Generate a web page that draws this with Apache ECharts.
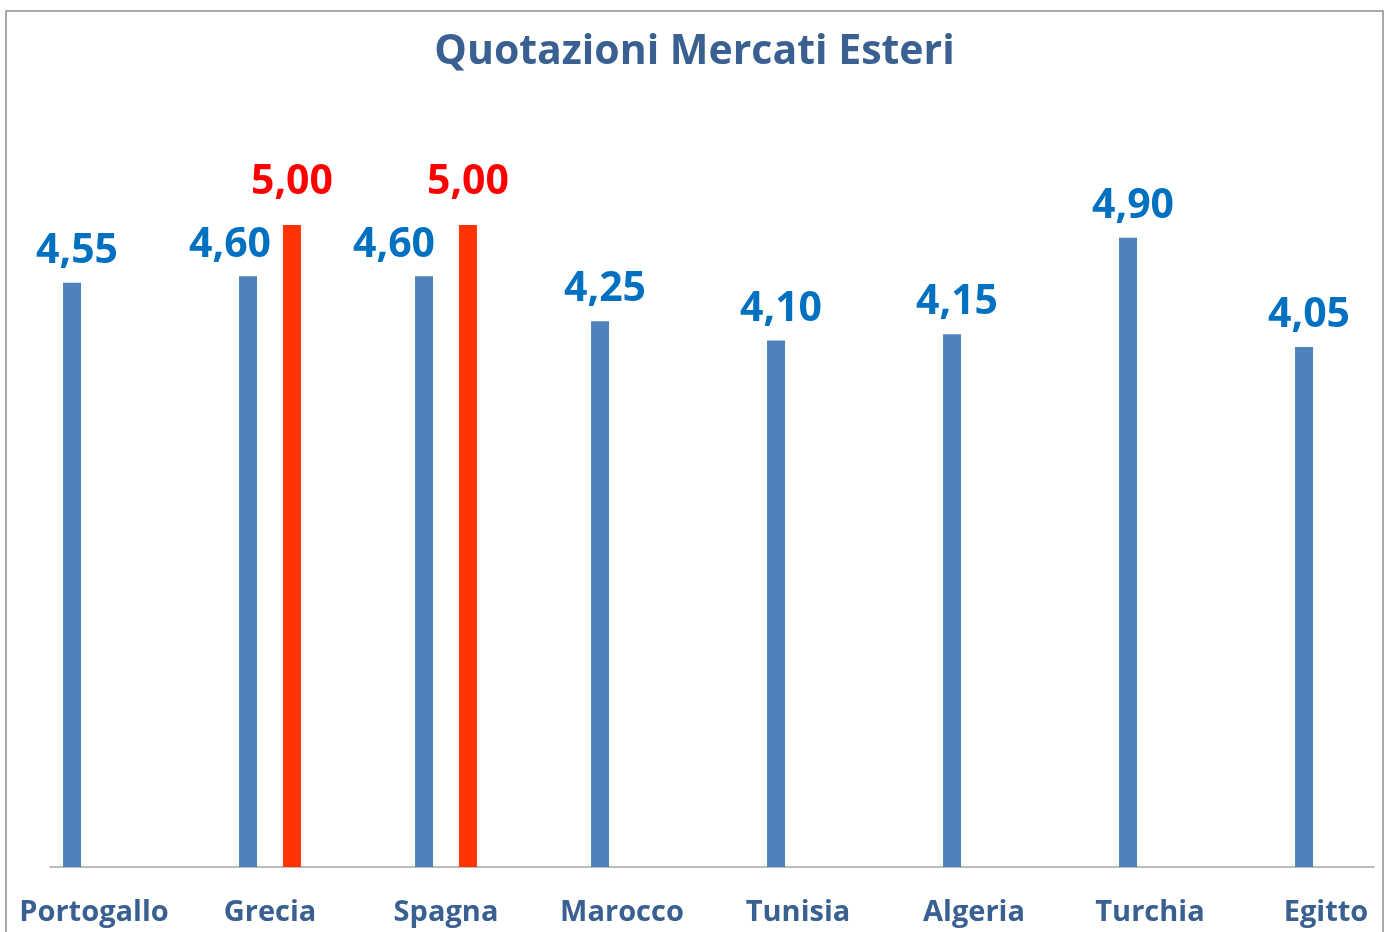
<!DOCTYPE html>
<html>
<head>
<meta charset="utf-8">
<title>Quotazioni Mercati Esteri</title>
<script src="https://cdn.jsdelivr.net/npm/echarts@6/dist/echarts.min.js"></script>
<style>
    html, body { margin: 0; padding: 0; background: #fff; }
    #chart { width: 1389px; height: 932px; }
</style>
</head>
<body>
<div id="chart"></div>
<script>
// dati del grafico
var paesi = ['Portogallo', 'Grecia', 'Spagna', 'Marocco', 'Tunisia', 'Algeria', 'Turchia', 'Egitto'];
var quotazioni = [4.55, 4.60, 4.60, 4.25, 4.10, 4.15, 4.90, 4.05];
var quotazioniMax = [null, 5.00, 5.00, null, null, null, null, null];

// spostamento orizzontale delle etichette blu, per non sovrapporsi alle barre rosse
var spostaEtichette = [5, -18, -30, 5, 5, 5, 5, 5];

var font = '"Open Sans", Lato, sans-serif';

function virgola(v) {
    return v.toFixed(2).replace('.', ',');
}

var datiBlu = [];
for (var i = 0; i < quotazioni.length; i++) {
    datiBlu.push({
        value: quotazioni[i],
        label: { offset: [spostaEtichette[i], 0] }
    });
}

var myChart = echarts.init(document.getElementById('chart'));

var option = {
    animation: false,
    title: {
        text: 'Quotazioni Mercati Esteri',
        left: 'center',
        top: 27,
        textStyle: {
            color: '#3A6091',
            fontFamily: font,
            fontWeight: 'bold',
            fontSize: 41
        }
    },
    graphic: [{
        type: 'rect',
        shape: { x: 6, y: 11, width: 1377, height: 940 },
        style: { fill: null, stroke: '#8c8c8c', lineWidth: 1.5 },
        silent: true
    }],
    grid: [
        { left: 94, right: 63, top: 225, bottom: 65 },
        // solo per la linea dell'asse orizzontale
        { left: 50, right: 15, top: 225, bottom: 65 }
    ],
    xAxis: [{
        type: 'category',
        gridIndex: 0,
        data: paesi,
        boundaryGap: false,
        axisLine: { show: false },
        axisTick: { show: false },
        axisLabel: {
            interval: 0,
            margin: 31,
            color: '#3A6091',
            fontFamily: font,
            fontWeight: 'bold',
            fontSize: 29
        }
    }, {
        type: 'value',
        gridIndex: 1,
        axisLine: { show: true, lineStyle: { color: '#a6a6a6', width: 1.5 } },
        axisTick: { show: false },
        axisLabel: { show: false },
        splitLine: { show: false }
    }],
    yAxis: [{
        type: 'value',
        gridIndex: 0,
        min: 0,
        max: 5,
        show: false
    }, {
        type: 'value',
        gridIndex: 1,
        show: false
    }],
    series: [
        {
            name: 'Quotazione',
            type: 'bar',
            data: datiBlu,
            barWidth: 18,
            barGap: '144%',
            itemStyle: { color: '#4F81BD' },
            label: {
                show: true,
                position: 'top',
                distance: 11,
                color: '#0070C0',
                fontFamily: font,
                fontWeight: 'bold',
                fontSize: 41,
                formatter: function (p) { return virgola(p.value); }
            }
        },
        {
            name: 'Quotazione massima',
            type: 'bar',
            data: quotazioniMax,
            barWidth: 18,
            itemStyle: { color: '#FF3300' },
            label: {
                show: true,
                position: 'top',
                distance: 22,
                color: '#FF0000',
                fontFamily: font,
                fontWeight: 'bold',
                fontSize: 41,
                formatter: function (p) { return virgola(p.value); }
            }
        }
    ]
};

myChart.setOption(option);
window.addEventListener('resize', function () {
    myChart.resize();
});
</script>
</body>
</html>
